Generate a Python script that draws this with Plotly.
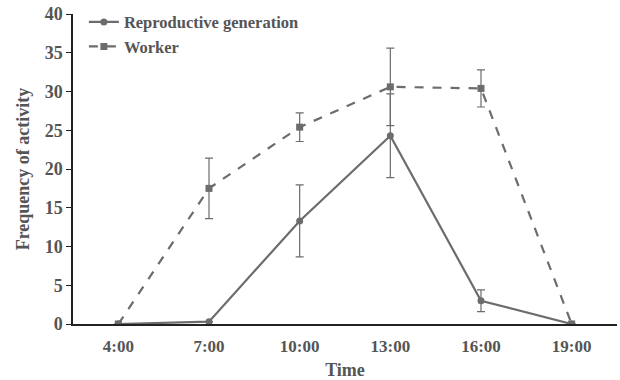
import plotly.graph_objects as go

times = ["4:00", "7:00", "10:00", "13:00", "16:00", "19:00"]
repro = [0, 0.3, 13.3, 24.3, 3.0, 0]
repro_err = [0, 0, 4.65, 5.4, 1.4, 0]
worker = [0, 17.5, 25.4, 30.6, 30.4, 0]
worker_err = [0, 3.9, 1.85, 5.0, 2.4, 0]
yticks = [0, 5, 10, 15, 20, 25, 30, 35, 40]

gray = "#6c6c6c"
txt = "#555555"
ff = "Liberation Serif"

fig = go.Figure()
fig.add_trace(go.Scatter(
    x=times, y=repro, name="<b>Reproductive generation</b>", mode="lines+markers",
    line=dict(color=gray, width=2.2),
    marker=dict(symbol="circle", size=7, color=gray),
    error_y=dict(type="data", array=repro_err, visible=True, color=gray, thickness=1.2, width=4),
))
fig.add_trace(go.Scatter(
    x=times, y=worker, name="<b>Worker</b>", mode="lines+markers",
    line=dict(color=gray, width=2.2, dash="dash"),
    marker=dict(symbol="square", size=7, color=gray),
    error_y=dict(type="data", array=worker_err, visible=True, color=gray, thickness=1.2, width=4),
))

fig.update_layout(
    width=620, height=380,
    margin=dict(l=73, r=3, t=14, b=56),
    paper_bgcolor="white", plot_bgcolor="white",
    font=dict(family=ff, size=16, color=txt),
    showlegend=True,
    legend=dict(x=0.02, y=1.03, xanchor="left", yanchor="top",
                bgcolor="rgba(0,0,0,0)", font=dict(family=ff, size=16.5, color=txt),
                tracegroupgap=0, itemwidth=30),
)
fig.update_xaxes(
    type="category", range=[-0.5, 5.5],
    tickvals=times, ticktext=[f"<b>{t}</b>" for t in times],
    showline=True, linecolor="#222222", linewidth=1.5,
    ticks="", showgrid=False, zeroline=False,
    tickfont=dict(family=ff, size=17, color=txt),
    title=dict(text="<b>Time</b>", font=dict(family=ff, size=18, color=txt), standoff=8),
    ticklabelstandoff=6,
)
fig.update_yaxes(
    range=[0, 40], tickvals=yticks, ticktext=[f"<b>{v}</b>" for v in yticks],
    showline=True, linecolor="#222222", linewidth=1.5,
    ticks="outside", ticklen=5, tickcolor="#222222",
    showgrid=False, zeroline=False,
    tickfont=dict(family=ff, size=18, color=txt),
    title=dict(text="<b>Frequency of activity</b>", font=dict(family=ff, size=18, color=txt), standoff=10),
)

fig.write_html("out.html")
